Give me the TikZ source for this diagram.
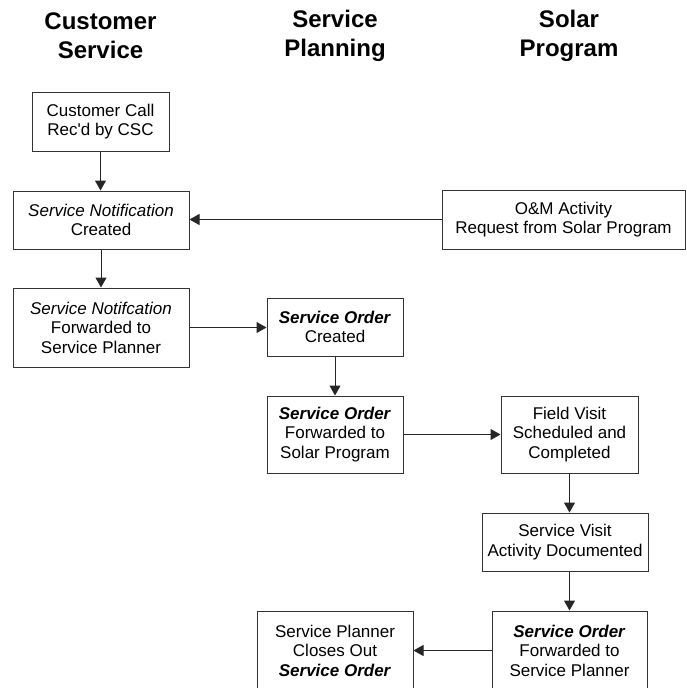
\documentclass[tikz,border=0pt]{standalone}
\usepackage{fontspec}
\setmainfont{Liberation Sans}
\usetikzlibrary{arrows.meta}
\tikzset{
  box/.style={draw=black!80, line width=1pt, fill=white, inner sep=0pt, align=center,
    font=\fontsize{17}{19.5}\selectfont},
  head/.style={align=center, inner sep=0pt, font=\fontsize{24}{29}\selectfont\bfseries},
  flow/.style={draw=black!85, line width=1pt, -{Triangle[length=10pt,width=11pt]}}
}
\newcommand{\so}{\textbf{\textit{Service Order}}}
\begin{document}
\begin{tikzpicture}[x=1pt,y=-1pt]
\useasboundingbox (0,0) rectangle (686,688);
\clip (0,0) rectangle (686,688);
% headers
\node[head] (h1) at (100.5,36) {Customer\\Service};
\node[head] (h2) at (335,36) {Service\\Planning};
\node[head] (h3) at (569,36) {Solar\\Program};
% boxes
\node[box, minimum width=137pt, minimum height=59pt] (b1) at (100.5,121.5) {Customer Call\\Rec\textquotesingle d by CSC};
\node[box, minimum width=176pt, minimum height=58pt] (b2) at (101,220) {\textit{Service Notification}\\Created};
\node[box, minimum width=243pt, minimum height=59pt] (b3) at (563.5,219.5) {O\&M Activity\\Request from Solar Program};
\node[box, minimum width=176pt, minimum height=79pt] (b4) at (101,327.5) {\textit{Service Notifcation}\\Forwarded to\\Service Planner};
\node[box, minimum width=136pt, minimum height=58pt] (b5) at (335,327) {\so\\Created};
\node[box, minimum width=136pt, minimum height=77pt] (b6) at (335,434.5) {\so\\Forwarded to\\Solar Program};
\node[box, minimum width=137pt, minimum height=77pt] (b7) at (569.5,434.5) {Field Visit\\Scheduled and\\Completed};
\node[box, minimum width=166pt, minimum height=58pt] (b8) at (565,542) {Service Visit\\Activity Documented};
\node[box, minimum width=156pt, minimum height=79pt] (b9) at (335,650.5) {Service Planner\\Closes Out\\\so};
\node[box, minimum width=155pt, minimum height=79pt] (b10) at (569.5,650.5) {\so\\Forwarded to\\Service Planner};
% connectors
\draw[flow] (b1.south) -- (b1.south |- b2.north);
\draw[flow] (b3.west) -- (b3.west -| b2.east);
\draw[flow] (b2.south) -- (b4.north);
\draw[flow] (b4.east) -- (b4.east -| b5.west);
\draw[flow] (b5.south) -- (b6.north);
\draw[flow] (b6.east) -- (b7.west);
\draw[flow] (b7.south) -- (b7.south |- b8.north);
\draw[flow] (b10.north |- b8.south) -- (b10.north);
\draw[flow] (b10.west) -- (b9.east);
\end{tikzpicture}
\end{document}
